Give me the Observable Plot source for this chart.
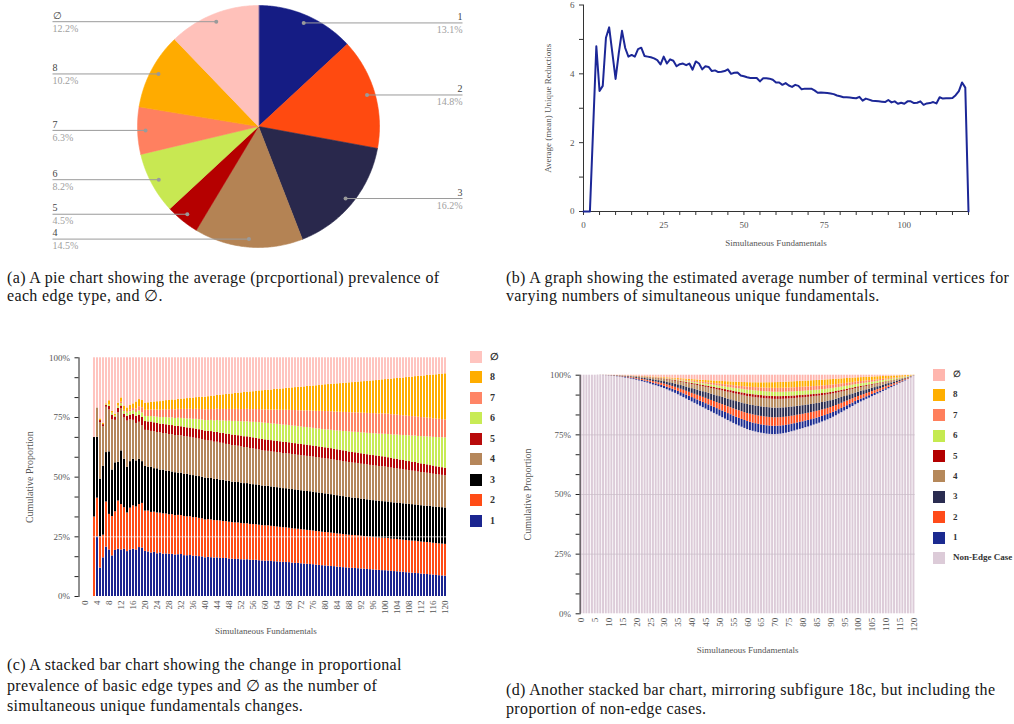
<!DOCTYPE html>
<html><head><meta charset="utf-8">
<script src="https://cdn.jsdelivr.net/npm/d3@7"></script>
<script src="https://cdn.jsdelivr.net/npm/@observablehq/plot@0.6"></script>
<style>
body{margin:0;background:#fff;}
#fig{position:relative;width:1014px;height:724px;overflow:hidden;background:#fff;}
.panel{position:absolute;}
.panel svg{overflow:visible;background:transparent;}
.cap{position:absolute;font-family:"Liberation Serif",serif;font-size:16px;letter-spacing:0.35px;color:#151515;white-space:nowrap;}
.lg{position:absolute;font-family:"Liberation Serif",serif;font-weight:bold;color:#333;white-space:nowrap;}
.sw{position:absolute;width:12px;height:12px;}
</style></head>
<body><div id="fig"></div>
<script>
// ---------- data ----------
const cats = ["1","2","3","4","5","6","7","8","∅"];
const pieValues = [13.1,14.8,16.2,14.5,4.5,8.2,6.3,10.2,12.2];
const pieColors = ["#151c84","#ff4a10","#29284c","#b48354","#b50000","#c8e852","#ff8060","#ffab00","#ffc1ba"];
const colorsC = ["#1b2590","#ff4c16","#000000","#b5865a","#b80a0a","#c8eb55","#ff8566","#ffad00","#ffc4bf"];
const colorsD = ["#1b2a90","#ff4b1a","#2a2c50","#b5885a","#b30000","#c5ea50","#ff7f5c","#ffaf00","#ffb6ae"];
const nonEdgeLabel = "Non-Edge Case";
const nonEdgeColor = "#dccbd8";

const fundX = d3.range(0, 121);          // simultaneous fundamentals 0..120
const barX = d3.range(3, 121);           // bars present in (c): 3..120

const meanReductions = [
0,0,0,2.4,4.8,3.5,3.65,5.05,5.35,4.6,
3.85,4.6,5.25,4.75,4.5,4.55,4.5,4.72,4.76,4.52,
4.5,4.48,4.45,4.4,4.27,4.5,4.3,4.42,4.38,4.22,
4.28,4.3,4.25,4.3,4.12,4.36,4.3,4.13,4.22,4.2,
4.08,4.1,4.05,4.06,4.08,4.13,4.0,4.03,4.04,3.95,
3.93,3.9,3.88,3.88,3.88,3.78,3.87,3.87,3.86,3.83,
3.75,3.75,3.68,3.73,3.66,3.62,3.68,3.65,3.55,3.57,
3.57,3.57,3.52,3.45,3.46,3.45,3.44,3.43,3.41,3.37,
3.35,3.32,3.32,3.31,3.3,3.29,3.33,3.22,3.28,3.25,
3.22,3.21,3.2,3.19,3.18,3.24,3.17,3.2,3.13,3.16,
3.13,3.2,3.2,3.15,3.16,3.2,3.1,3.14,3.15,3.18,
3.14,3.32,3.28,3.29,3.29,3.3,3.38,3.5,3.75,3.6,0];

// edge-type shares (%) for x = 3..120
const e1 = [0,25,11.9,16.2,20.7,19.5,17,19.3,19.8,19.5,19.8,18.8,19.5,19.8,19.5,20.5,20.3,
18.9,18.7,18.2,18.5,17.9,18.2,17.7,17.8,17.6,17.6,
17.3,17.5,17.6,17.1,17.0,17.2,16.8,16.9,16.7,16.6,
16.2,16.4,16.3,16.1,16.2,16.0,15.9,16.0,15.7,15.6,
15.5,15.6,15.4,15.3,15.4,15.2,15.1,15.2,15.0,14.9,
14.8,14.9,14.7,14.6,14.5,14.4,14.3,14.3,14.2,14.0,
13.9,13.9,13.7,13.6,13.5,13.4,13.3,13.1,13.0,12.9,
12.8,12.7,12.6,12.5,12.3,12.2,12.1,12.0,11.9,11.8,
11.8,11.7,11.6,11.5,11.4,11.3,11.2,11.1,11.0,10.9,
10.9,10.8,10.6,10.5,10.4,10.3,10.2,10.0,9.9,9.8,
9.7,9.6,9.4,9.3,9.2,9.1,9.0,8.8,8.7,8.6,8.5];
const e2 = [33.3,16.2,13,9.5,18.9,14.9,16.5,16.2,20.2,19,17.4,16.2,17.5,18.2,18,18,18.7,
16.9,17.2,17.0,16.8,17.1,16.6,16.9,16.7,16.5,16.6,
16.4,16.5,16.3,16.4,16.2,16.3,16.1,16.2,16.0,16.0,
15.9,15.8,15.9,15.7,15.6,15.7,15.5,15.4,15.4,15.3,
15.3,15.2,15.2,15.1,15.1,15.0,15.0,14.9,14.9,14.8,
14.8,14.8,14.7,14.7,14.6,14.6,14.5,14.5,14.4,14.4,
14.4,14.3,14.3,14.3,14.2,14.2,14.1,14.1,14.1,14.0,
14.0,14.0,14.0,13.9,13.9,13.9,13.9,13.8,13.8,13.8,
13.8,13.8,13.8,13.7,13.7,13.7,13.7,13.7,13.7,13.7,
13.7,13.7,13.6,13.6,13.6,13.6,13.5,13.5,13.5,13.5,
13.5,13.4,13.4,13.4,13.4,13.4,13.3,13.3,13.3,13.3,13.3];
const e3 = [33.3,25.5,24.3,28.8,20.7,26.2,19.5,20.5,16.2,22.5,20.3,19.2,19.5,19.5,19.3,19,17.5,
18.7,18.4,18.9,18.2,18.5,18.0,18.3,17.9,18.1,17.8,
17.9,17.7,17.8,17.6,17.7,17.5,17.6,17.4,17.5,17.4,
17.5,17.3,17.4,17.2,17.3,17.1,17.2,17.0,17.1,16.9,
17.0,16.9,16.9,16.8,16.8,16.8,16.7,16.7,16.7,16.6,
16.6,16.6,16.5,16.5,16.5,16.5,16.4,16.4,16.4,16.4,
16.4,16.3,16.3,16.3,16.3,16.3,16.2,16.2,16.2,16.2,
16.2,16.1,16.1,16.0,16.0,15.9,15.9,15.8,15.8,15.7,
15.7,15.7,15.6,15.6,15.6,15.5,15.5,15.5,15.4,15.4,
15.4,15.4,15.4,15.3,15.3,15.3,15.3,15.3,15.3,15.3,
15.2,15.2,15.2,15.2,15.2,15.2,15.2,15.2,15.2,15.2,15.2];
const e4 = [0,12.3,23.6,16.7,19,17.6,21,17.8,20.8,17.6,17.3,19.3,17.5,16.3,15.7,15.5,15,
15.1,15.4,15.0,15.5,15.2,15.6,15.3,15.7,15.4,15.6,
15.5,15.7,15.6,15.8,15.6,15.8,15.7,15.8,15.7,15.8,
15.8,15.7,15.7,15.6,15.6,15.5,15.5,15.4,15.4,15.3,
15.3,15.2,15.2,15.1,15.1,15.0,15.0,14.9,14.9,14.8,
14.7,14.7,14.7,14.7,14.7,14.7,14.7,14.7,14.7,14.7,
14.7,14.7,14.7,14.7,14.7,14.7,14.7,14.7,14.7,14.7,
14.7,14.7,14.7,14.7,14.7,14.7,14.7,14.7,14.7,14.7,
14.7,14.7,14.7,14.7,14.7,14.7,14.7,14.7,14.7,14.7,
14.7,14.6,14.6,14.5,14.4,14.4,14.3,14.2,14.2,14.1,
14.1,14.0,13.9,13.9,13.8,13.7,13.7,13.6,13.6,13.5,13.5];
const e5 = [0,0,0.9,0.8,0.7,1.4,2,1.4,1.8,1.2,1.6,2,2,2.5,3,3,3.5,
3.7,3.6,3.9,3.7,3.8,3.6,3.9,3.7,3.8,3.8,
3.8,3.9,3.8,3.9,3.8,3.9,3.9,3.9,3.9,3.9,
3.9,4.0,4.0,4.1,4.1,4.2,4.2,4.3,4.3,4.4,
4.4,4.4,4.5,4.5,4.5,4.6,4.6,4.6,4.6,4.7,
4.7,4.7,4.7,4.7,4.7,4.7,4.7,4.7,4.7,4.7,
4.7,4.7,4.7,4.7,4.7,4.6,4.6,4.6,4.6,4.6,
4.6,4.6,4.6,4.5,4.5,4.5,4.5,4.5,4.4,4.4,
4.4,4.4,4.4,4.3,4.3,4.3,4.3,4.3,4.2,4.2,
4.2,4.1,4.1,4.0,4.0,3.9,3.9,3.8,3.8,3.7,
3.7,3.6,3.6,3.5,3.5,3.4,3.4,3.3,3.3,3.2,3.1];
const e6 = [0,0,0,0,0.3,0.7,0.8,0.6,0.7,1,1.1,1.3,1.4,1.5,1.6,1.7,1.9,
2.1,2.2,2.3,2.5,2.6,2.7,2.8,3.0,3.1,3.2,
3.3,3.4,3.5,3.6,3.7,3.8,3.9,4.1,4.2,4.3,
4.4,4.5,4.7,4.8,5.0,5.1,5.2,5.4,5.5,5.7,
5.8,5.9,6.0,6.2,6.3,6.4,6.5,6.7,6.8,6.9,
7.0,7.0,7.0,7.1,7.1,7.1,7.2,7.2,7.2,7.2,
7.3,7.3,7.3,7.3,7.4,7.4,7.4,7.4,7.5,7.5,
7.5,7.6,7.7,7.8,7.9,8.0,8.1,8.3,8.4,8.5,
8.6,8.7,8.8,8.9,9.0,9.1,9.2,9.3,9.4,9.5,
9.6,9.8,9.9,10.1,10.2,10.4,10.5,10.7,10.8,11.0,
11.1,11.3,11.4,11.6,11.7,11.9,12.0,12.2,12.3,12.5,12.7];
const e7 = [0,0,0,0,0,0,0,0,0.3,0.6,0.5,0.6,0.8,1.0,1.4,1.8,2.2,
2.6,2.7,2.8,2.9,3.0,3.1,3.2,3.3,3.4,3.5,
3.6,3.7,3.8,3.9,4.0,4.1,4.1,4.2,4.3,4.4,
4.5,4.6,4.6,4.7,4.7,4.8,4.8,4.9,4.9,5.0,
5.0,5.1,5.1,5.2,5.2,5.3,5.3,5.4,5.5,5.5,
5.6,5.7,5.8,5.9,6.0,6.1,6.2,6.3,6.4,6.5,
6.6,6.7,6.8,6.9,7.0,7.1,7.2,7.3,7.4,7.6,
7.7,7.7,7.8,7.8,7.9,7.9,8.0,8.0,8.1,8.1,
8.2,8.2,8.3,8.3,8.4,8.4,8.5,8.5,8.5,8.6,
8.6,8.6,8.5,8.5,8.4,8.4,8.3,8.3,8.2,8.2,
8.1,8.1,8.0,8.0,7.9,7.9,7.8,7.7,7.7,7.6,7.5];
const e8 = [0,0,0.7,0.5,0.4,1.7,0.7,0.6,1.2,1.8,1.8,1.6,1.8,1.9,3.0,3.0,3.0,
3.0,3.1,3.2,3.3,3.5,3.6,3.7,3.8,3.9,4.0,
4.1,4.2,4.3,4.4,4.5,4.7,4.8,4.9,5.0,5.2,
5.3,5.4,5.6,5.7,5.8,6.0,6.1,6.3,6.4,6.5,
6.7,6.8,7.0,7.1,7.2,7.4,7.5,7.7,7.8,8.0,
8.1,8.3,8.4,8.6,8.7,8.9,9.0,9.2,9.3,9.5,
9.6,9.8,9.9,10.1,10.2,10.4,10.5,10.7,10.8,11.0,
11.2,11.3,11.5,11.7,11.8,12.0,12.2,12.3,12.5,12.7,
12.8,13.0,13.2,13.3,13.5,13.7,13.8,14.0,14.2,14.3,
14.5,14.7,15.0,15.2,15.4,15.7,15.9,16.1,16.4,16.6,
16.8,17.1,17.3,17.5,17.8,18.0,18.3,18.5,18.8,19.0,19.3];
const eNull = [33.4,21,25.6,27.5,19.3,18,22.5,23.6,19,16.8,20.2,21,20,19.3,18.5,17.5,17.9,
19.0,18.9,18.6,18.5,18.4,18.3,18.1,17.9,17.8,17.6,
17.6,17.4,17.3,17.2,17.0,16.9,16.8,16.7,16.6,16.5,
16.5,16.3,16.1,16.0,15.8,15.7,15.5,15.4,15.2,15.1,
14.9,14.8,14.7,14.5,14.4,14.3,14.2,14.0,13.9,13.8,
13.7,13.6,13.5,13.3,13.2,13.1,13.0,12.8,12.7,12.6,
12.5,12.4,12.3,12.2,12.0,11.9,11.8,11.7,11.6,11.4,
11.3,11.2,11.1,11.0,10.9,10.8,10.7,10.6,10.5,10.4,
10.3,10.2,10.1,10.0,9.9,9.8,9.7,9.6,9.5,9.3,
9.2,9.1,9.0,8.8,8.7,8.6,8.5,8.3,8.2,8.1,
7.9,7.8,7.7,7.6,7.4,7.3,7.2,7.1,6.9,6.8,6.7];
const edgeSeries = [e1,e2,e3,e4,e5,e6,e7,e8,eNull];

// proportion (%) of non-edge cases for x = 0..120
const nonEdge = [
100,100,100,100,100,100,99.95,99.9,99.85,99.8,
99.7,99.6,99.5,99.35,99.2,99.0,98.8,98.6,98.4,98.15,
97.9,97.6,97.3,97.0,96.7,96.3,95.9,95.6,95.2,94.8,
94.4,93.9,93.4,92.9,92.4,91.8,91.2,90.6,90.0,89.4,
88.8,88.2,87.6,87.0,86.4,85.8,85.2,84.6,84.0,83.4,
82.8,82.2,81.6,81.0,80.4,79.8,79.2,78.7,78.2,77.7,
77.2,76.8,76.5,76.2,75.9,75.7,75.5,75.3,75.2,75.1,
75.1,75.2,75.3,75.5,75.7,76.0,76.3,76.6,77.0,77.3,
77.6,78.0,78.3,78.7,79.1,79.5,79.9,80.4,80.8,81.3,
81.8,82.4,83.0,83.7,84.3,85.0,85.6,86.3,86.9,87.6,
88.2,88.8,89.3,89.9,90.4,91.0,91.5,92.1,92.6,93.2,
93.7,94.3,94.8,95.4,95.9,96.5,97.0,97.6,98.2,98.9,99.7];

const captionA = ["(a) A pie chart showing the average (prcportional) prevalence of", "each edge type, and ∅."];
const captionB = ["(b) A graph showing the estimated average number of terminal vertices for", "varying numbers of simultaneous unique fundamentals."];
const captionC = ["(c) A stacked bar chart showing the change in proportional", "prevalence of basic edge types and ∅ as the number of", "simultaneous unique fundamentals changes."];
const captionD = ["(d) Another stacked bar chart, mirroring subfigure 18c, but including the", "proportion of non-edge cases."];
const xTitle = "Simultaneous Fundamentals";
const yTitleB = "Average (mean) Unique Reductions";
const yTitleC = "Cumulative Proportion";

// ---------- helpers ----------
const fig = document.getElementById("fig");
function panel(left, top, node){ const d = document.createElement("div"); d.className = "panel"; d.style.left = left+"px"; d.style.top = top+"px"; d.appendChild(node); fig.appendChild(d); }
function caption(left, top, lh, lines){ const d = document.createElement("div"); d.className="cap"; d.style.left=left+"px"; d.style.top=top+"px"; d.style.lineHeight=lh+"px"; d.innerHTML = lines.join("<br>"); fig.appendChild(d); }
function legend(left, top0, step, labels, colors, fs){
  labels.forEach((t,i)=>{
    const y = top0 + i*step;
    const s = document.createElement("div"); s.className="sw"; s.style.left=left+"px"; s.style.top=(y-6)+"px"; s.style.background=colors[i]; fig.appendChild(s);
    const l = document.createElement("div"); l.className="lg"; l.style.fontSize=fs+"px"; l.style.left=(left+20)+"px"; l.style.top=(y-fs*0.62)+"px"; l.textContent=t; fig.appendChild(l);
  });
}
const baseStyle = {fontFamily: "Liberation Serif, serif", fontSize: "9px", background: "transparent", color: "#333", overflow: "visible"};

// ---------- (a) pie ----------
const cx = 258, cy = 126, R = 121, rDot = 113;
const arcs = d3.pie().sort(null).value(d => d)(pieValues);
const slicePts = [];
arcs.forEach((a, i) => {
  slicePts.push({k: i, x: cx, y: cy});
  const n = 90;
  for (let j = 0; j <= n; j++) {
    const t = a.startAngle + (a.endAngle - a.startAngle) * j / n;
    slicePts.push({k: i, x: cx + R*Math.sin(t), y: cy - R*Math.cos(t)});
  }
});
const pieLab = arcs.map((a, i) => {
  const m = (a.startAngle + a.endAngle)/2;
  return {name: cats[i], pct: pieValues[i].toFixed(1)+"%", dx: cx + rDot*Math.sin(m), dy: cy - rDot*Math.cos(m), right: m < Math.PI};
});
const labR = pieLab.filter(d => d.right).map(d => ({...d, lx: 462}));
const labL = pieLab.filter(d => !d.right).map(d => ({...d, lx: 52}));
const pie = Plot.plot({
  width: 500, height: 256, margin: 0, style: baseStyle,
  x: {domain: [0, 500], axis: null}, y: {domain: [0, 256], reverse: true, axis: null},
  marks: [
    Plot.line(slicePts, {x: "x", y: "y", z: "k", fill: d => pieColors[d.k], stroke: d => pieColors[d.k], strokeWidth: 0.6, curve: "linear-closed"}),
    Plot.link([...labR, ...labL], {x1: "lx", y1: "dy", x2: "dx", y2: "dy", stroke: "#9a9a9a", strokeWidth: 1}),
    Plot.dot(pieLab, {x: "dx", y: "dy", r: 2, fill: "#9a9a9a"}),
    Plot.text(labR, {x: "lx", y: "dy", text: "name", textAnchor: "end", dy: -6, fill: "#444", fontSize: 10}),
    Plot.text(labR, {x: "lx", y: "dy", text: "pct", textAnchor: "end", dy: 7, fill: "#a0a0a0", fontSize: 10}),
    Plot.text(labL, {x: "lx", y: "dy", text: "name", textAnchor: "start", dy: -6, fill: "#444", fontSize: 10}),
    Plot.text(labL, {x: "lx", y: "dy", text: "pct", textAnchor: "start", dy: 7, fill: "#a0a0a0", fontSize: 10})
  ]
});
panel(0, 0, pie);

// ---------- (b) line ----------
const lineData = fundX.map((x, i) => ({x, y: meanReductions[i]}));
const lineChart = Plot.plot({
  width: 484, height: 260, marginLeft: 53, marginRight: 46, marginTop: 4.5, marginBottom: 49,
  style: baseStyle,
  x: {domain: [0, 120], label: null}, y: {domain: [0, 6], label: null},
  marks: [
    Plot.axisX({ticks: d3.range(0, 121, 5), tickFormat: d => d % 25 === 0 ? d : "", tickSize: 4, tickPadding: 6, stroke: "#333", fill: "#555", label: null}),
    Plot.axisY({ticks: d3.range(0, 7), tickFormat: d => d % 2 === 0 ? d : "", tickSize: 4, tickPadding: 5, stroke: "#333", fill: "#555", label: null}),
    Plot.ruleY([0], {stroke: "#333"}),
    Plot.ruleX([0], {stroke: "#333"}),
    Plot.line(lineData, {x: "x", y: "y", stroke: "#1c2797", strokeWidth: 2}),
    Plot.text([xTitle], {frameAnchor: "bottom", textAnchor: "middle", dy: 34, fill: "#555", fontSize: 9}),
    Plot.text([yTitleB], {frameAnchor: "left", textAnchor: "middle", rotate: -90, dx: -35, fill: "#555", fontSize: 9})
  ]
});
panel(530, 0, lineChart);

// ---------- (c) stacked bars ----------
const rowsC = [];
barX.forEach((x, j) => cats.forEach((c, ci) => rowsC.push({x, k: c, v: edgeSeries[ci][j]})));
const yTicks = d3.range(13).map(i => i/12);
const barC = Plot.plot({
  width: 520, height: 300, marginLeft: 78.5, marginRight: 67.8, marginTop: 17.3, marginBottom: 44,
  style: baseStyle,
  x: {type: "band", domain: fundX, paddingInner: 0.3, paddingOuter: 0.1, label: null},
  y: {domain: [0, 1], label: null},
  color: {domain: cats, range: colorsC},
  marks: [
    Plot.barY(rowsC, Plot.stackY({x: "x", y: "v", fill: "k", offset: "normalize"})),
    Plot.ruleY([0.25], {stroke: "white", strokeOpacity: 0.6}),
    Plot.axisY({ticks: yTicks, tickFormat: d => Math.round(d*12) % 3 === 0 ? Math.round(d*100)+"%" : "", tickSize: 4, tickPadding: 5, stroke: "#222", fill: "#555", label: null}),
    Plot.axisX({ticks: d3.range(0, 121, 4), tickRotate: -90, tickSize: 0, tickPadding: 4, fill: "#555", label: null}),
    Plot.frame({anchor: "left", stroke: "#222"}),
    Plot.text([xTitle], {frameAnchor: "bottom", textAnchor: "middle", dy: 37, fill: "#555", fontSize: 9}),
    Plot.text([yTitleC], {frameAnchor: "left", textAnchor: "middle", rotate: -90, dx: -49, fill: "#555", fontSize: 10})
  ]
});
panel(0, 340, barC);
legend(470, 356.7, 20.5, [...cats].reverse(), [...colorsC].reverse(), 10);

// ---------- (d) stacked bars incl. non-edge ----------
const rowsD = [];
fundX.forEach((x, i) => {
  rowsD.push({x, k: nonEdgeLabel, v: nonEdge[i]});
  const j = x - 3;
  if (j >= 0) {
    const vals = edgeSeries.map(s => s[j]);
    const tot = d3.sum(vals);
    const edge = 100 - nonEdge[i];
    cats.forEach((c, ci) => rowsD.push({x, k: c, v: vals[ci] / tot * edge}));
  }
});
const barD = Plot.plot({
  width: 494, height: 300, marginLeft: 59.6, marginRight: 99.3, marginTop: 14.7, marginBottom: 46.7,
  style: baseStyle,
  x: {type: "band", domain: fundX, paddingInner: 0.3, paddingOuter: 0.1, label: null},
  y: {domain: [0, 100], label: null},
  color: {domain: [nonEdgeLabel, ...cats], range: [nonEdgeColor, ...colorsD]},
  marks: [
    Plot.barY(rowsD, Plot.stackY({x: "x", y: "v", fill: "k"})),
    Plot.ruleY([25, 50, 75], {stroke: "#c9bcc8", strokeOpacity: 0.7}),
    Plot.axisY({ticks: yTicks.map(t => t*100), tickFormat: d => Math.round(d*12/100) % 3 === 0 ? Math.round(d)+"%" : "", tickSize: 4, tickPadding: 5, stroke: "#222", fill: "#555", label: null}),
    Plot.axisX({ticks: d3.range(0, 121, 5), tickRotate: -90, tickSize: 0, tickPadding: 4, fill: "#555", label: null}),
    Plot.frame({anchor: "left", stroke: "#222"}),
    Plot.text([xTitle], {frameAnchor: "bottom", textAnchor: "middle", dy: 39, fill: "#555", fontSize: 9}),
    Plot.text([yTitleC], {frameAnchor: "left", textAnchor: "middle", rotate: -90, dx: -52, fill: "#555", fontSize: 10})
  ]
});
panel(520, 360, barD);
legend(933, 374.7, 20.35, [...cats].reverse().concat([nonEdgeLabel]), [...colorsD].reverse().concat([nonEdgeColor]), 9);

// ---------- captions ----------
caption(7, 269, 18, captionA);
caption(506, 269, 18, captionB);
caption(7, 655, 20.5, captionC);
caption(506, 680, 19, captionD);
</script>
</body></html>
